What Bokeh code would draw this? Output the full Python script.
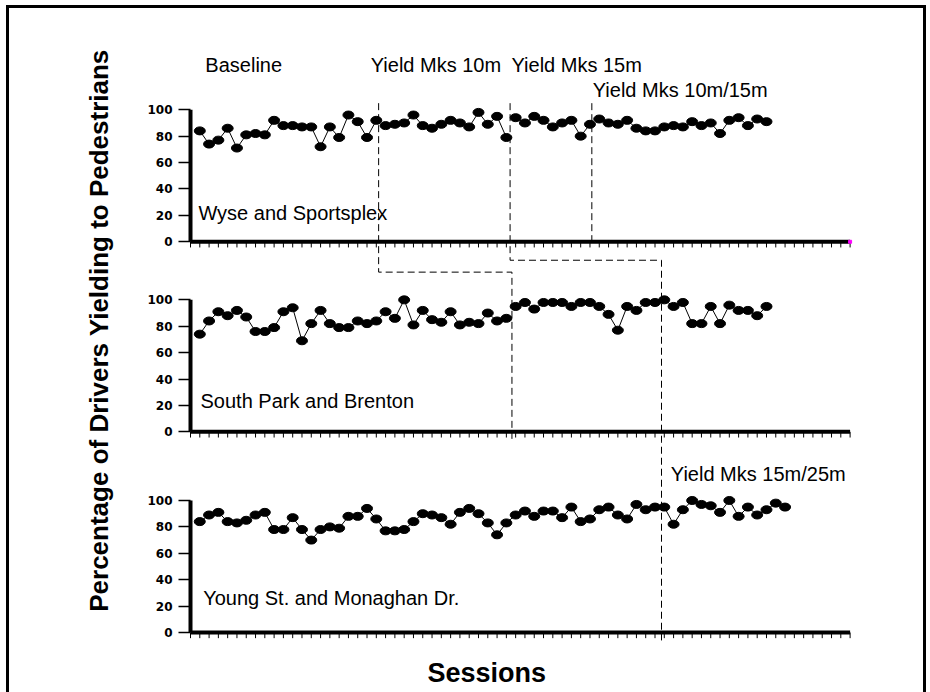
from bokeh.plotting import figure
from bokeh.models import ColumnDataSource, FixedTicker, Title, Range1d
from bokeh.embed import file_html
from bokeh.resources import INLINE
from bokeh.core.properties import value

# ---------------- data ----------------
site_names = ["Wyse and Sportsplex", "South Park and Brenton", "Young St. and Monaghan Dr."]

wyse_pct = [84, 74, 77, 86, 71, 81, 82, 81, 92, 88, 88, 87, 87, 72, 87, 79, 96, 91, 79, 92,
            88, 89, 90, 96, 88, 86, 89, 92, 90, 87, 98, 89, 95, 79,
            94, 90, 95, 92, 87, 90, 92, 80, 89,
            93, 90, 89, 92, 86, 84, 84, 87, 88, 87, 91, 88, 90, 82, 92, 94, 88, 93, 91]

south_park_pct = [74, 84, 91, 88, 92, 87, 76, 76, 79, 91, 94, 69, 82, 92, 82, 79, 79, 84, 82, 84,
                  91, 86, 100, 81, 92, 85, 83, 91, 81, 83, 82, 90, 84, 86,
                  95, 98, 93, 98, 98, 98, 95, 98, 98, 95, 89, 77, 95, 92, 98, 98,
                  100, 95, 98, 82, 82, 95, 82, 96, 92, 92, 88, 95]

young_pct = [84, 89, 91, 84, 83, 85, 89, 91, 78, 78, 87, 78, 70, 78, 80, 79, 88, 88, 94, 86,
             77, 77, 78, 84, 90, 89, 87, 82, 91, 94, 90, 83, 74,
             83, 89, 92, 88, 92, 92, 87, 95, 84, 86, 93, 95, 89, 86, 97, 93, 95,
             95, 82, 93, 100, 97, 96, 91, 100, 88, 95, 89, 93, 98, 95]

# last session of each phase (before a condition change)
wyse_breaks = [20, 34, 43]
south_park_breaks = [34, 50]
young_breaks = [50]

# where the dashed phase-change lines are drawn (session units)
wyse_change_x = [20.25, 34.4, 43.2]
south_park_change_x = [34.6, 50.7]
young_change_x = [50.7]

phase_labels = ["Baseline", "Yield Mks 10m", "Yield Mks 15m", "Yield Mks 10m/15m", "Yield Mks 15m/25m"]

y_ticks = [0, 20, 40, 60, 80, 100]
n_session_ticks = 71

# ---------------- layout constants ----------------
BASES = [296, 152, 0]   # vertical offset of each panel on the shared scale
b1, b2, b3 = BASES

p = figure(width=930, height=692, output_backend="svg", toolbar_location=None,
           x_range=Range1d(-0.646, 78.04), y_range=Range1d(-13.64, 471.2),
           min_border_left=184, min_border_right=15, min_border_top=10, min_border_bottom=42)
p.grid.visible = False
p.outline_line_color = None
p.background_fill_color = None
p.border_fill_color = None
p.xaxis.visible = False

# outer frame of the figure (drawn with CSS behind the transparent canvas)
p.styles = {
    "background": ("linear-gradient(#000,#000) 6px 5px / 3px 100% no-repeat, "
                   "linear-gradient(#000,#000) 6px 5px / 920px 3px no-repeat, "
                   "linear-gradient(#000,#000) 923px 5px / 3px 100% no-repeat, #fff"),
}

# y axis: real axis with ticks repeated per panel
tick_vals = [b + t for b in BASES for t in y_ticks]
p.yaxis.ticker = FixedTicker(ticks=tick_vals)
p.yaxis.major_label_overrides = {b + t: str(t) for b in BASES for t in y_ticks}
p.yaxis.axis_line_color = None
p.yaxis.minor_tick_line_color = None
p.yaxis.major_tick_out = 6
p.yaxis.major_tick_in = 6
p.yaxis.major_tick_line_width = 1.5
p.yaxis.major_label_standoff = 6
p.yaxis.major_label_text_font = "DejaVu Sans"
p.yaxis.major_label_text_font_style = "bold"
p.yaxis.major_label_text_font_size = "12px"
p.yaxis.major_label_text_color = "black"
p.yaxis.axis_label = "Percentage of Drivers Yielding to Pedestrians"
p.yaxis.axis_label_text_font = "Liberation Sans"
p.yaxis.axis_label_text_font_style = "bold"
p.yaxis.axis_label_text_font_size = "26px"
p.yaxis.axis_label_text_color = "black"
p.yaxis.axis_label_standoff = 30

panels = [
    (wyse_pct, b1, wyse_breaks),
    (south_park_pct, b2, south_park_breaks),
    (young_pct, b3, young_breaks),
]

ticks_x = list(range(0, n_session_ticks + 1))
for vals, base, breaks in panels:
    sess = list(range(1, len(vals) + 1))
    ys = [v + base for v in vals]
    edges = [0] + breaks + [len(vals)]
    xs_l = [sess[a:b] for a, b in zip(edges[:-1], edges[1:])]
    ys_l = [ys[a:b] for a, b in zip(edges[:-1], edges[1:])]
    # axes lines
    p.segment(x0=[0], y0=[base], x1=[n_session_ticks], y1=[base], line_color="black", line_width=4)
    p.segment(x0=[0], y0=[base], x1=[0], y1=[base + 100], line_color="black", line_width=4)
    p.segment(x0=ticks_x, y0=[base] * len(ticks_x), x1=ticks_x, y1=[base - 4.3] * len(ticks_x),
              line_color="black", line_width=1)
    # data
    p.multi_line(xs_l, ys_l, line_color="black", line_width=1)
    p.ellipse(x=sess, y=ys, width=11, height=8, width_units="screen", height_units="screen",
              fill_color="black", line_color="black")

# dashed phase-change lines (staircase across panels)
w0, w1, w2 = wyse_change_x
s0, s1 = south_park_change_x
y0_ = young_change_x[0]
dash_xs = [[w0, w0, s0, s0], [w1, w1, s1, s1, y0_], [w2, w2]]
dash_ys = [[b1 + 105, b1 - 23, b1 - 23, b2 - 7],
           [b1 + 105, b1 - 14, b1 - 14, b2 - 7, b3 - 6],
           [b1 + 105, b1 - 2]]
p.multi_line(dash_xs, dash_ys, line_color="black", line_width=1, line_dash="7 4")

# small magenta mark at end of top axis
p.scatter(x=[n_session_ticks], y=[b1], marker="square", size=3, color="magenta")

# site names
site_src = ColumnDataSource(dict(x=[0.85, 1.08, 1.37], y=[b1 + 22, b2 + 23, b3 + 26.5], t=site_names))
p.text(x="x", y="y", text="t", source=site_src, text_font=value("Liberation Sans"),
       text_font_size="20px", text_baseline="middle", text_align="left", text_color="black")

# phase labels
ph_src = ColumnDataSource(dict(x=[1.6, 19.4, 34.55, 43.3, 51.7],
                               y=[b1 + 134, b1 + 134, b1 + 134, b1 + 115, b3 + 120],
                               t=phase_labels))
p.text(x="x", y="y", text="t", source=ph_src, text_font=value("Liberation Sans"),
       text_font_size="20px", text_baseline="middle", text_align="left", text_color="black")

# x axis title
p.add_layout(Title(text="Sessions", align="left", offset=243, standoff=10,
                   vertical_align="bottom",
                   text_font="Liberation Sans", text_font_style="bold",
                   text_font_size="27px", text_color="black"), "below")

open("out.html", "w").write(file_html(p, INLINE))
